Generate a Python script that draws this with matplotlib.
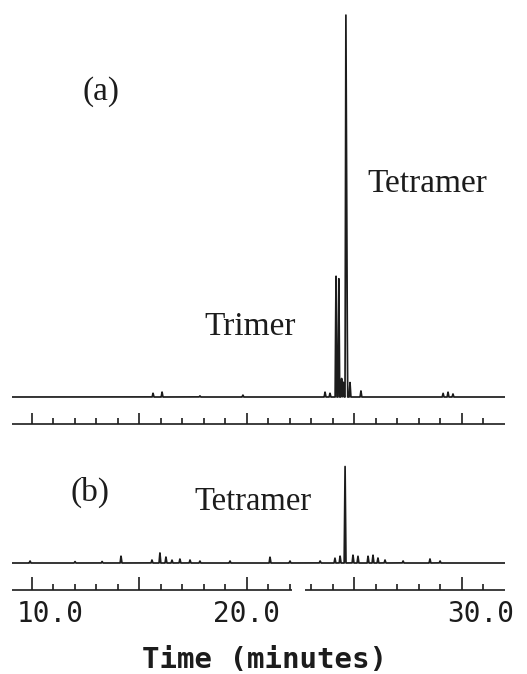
import numpy as np
import matplotlib.pyplot as plt
from matplotlib.transforms import ScaledTranslation

W, H = 527, 674  # figure size in pixels

# peak tables: retention time (minutes), peak height
# (a): heights relative to the tetramer peak = 100
a_times = [15.63, 16.05, 17.81, 19.81, 23.63, 23.86, 24.14, 24.27,
           24.40, 24.48, 24.60, 24.64, 24.79, 25.30, 29.12, 29.35, 29.58]
a_heights = [1.0, 1.3, 0.3, 0.5, 1.3, 1.0, 32.7, 32.0,
             5.0, 4.0, 100.0, 45.0, 3.9, 1.6, 1.0, 1.3, 0.8]

# (b): heights relative to the tetramer peak = 100
b_times = [9.91, 12.00, 13.26, 14.14, 15.58, 15.95, 16.23, 16.51, 16.88,
           17.35, 17.81, 19.21, 21.07, 22.00, 23.40, 24.09, 24.33, 24.56,
           24.93, 25.16, 25.63, 25.86, 26.09, 26.42, 27.26, 28.51, 28.98]
b_heights = [2, 1.5, 1.5, 7, 3, 10, 6, 3, 4,
             3, 2, 2, 6, 2, 2, 5, 7, 100,
             8, 7, 7, 8, 5, 3, 2, 4, 2]

ruler_ticks = list(range(10, 32))          # one tick per minute
ruler_b_segments = [(9.07, 22.10), (22.70, 32.0)]

tick_times = [10, 20, 30]
tick_labels = ['10.0', '20.0', '30.0']

t_min, t_max = 9.07, 32.0
ink = '#1c1c1c'


def trace(t, times, heights, w):
    y = np.zeros_like(t)
    for tp, h in zip(times, heights):
        y += h * np.clip(1 - np.abs(t - tp) / w, 0, None)
    return y


def box(top, bottom):
    return [12 / W, 1 - bottom / H, 493 / W, (bottom - top) / H]


def units(ypx, zero, scale):
    return (zero - ypx) / scale


fig = plt.figure(figsize=(W / 100, H / 100), dpi=100)
t = np.linspace(t_min, t_max, 6000)

# ---- panel (a)
ax_a = fig.add_axes(box(5, 430))
za, sa = 397, 3.82
ax_a.plot(t, trace(t, a_times, a_heights, 0.04), color=ink, lw=1.25)
ax_a.set_ylim(units(430, za, sa), units(5, za, sa))
ax_a.hlines(units(424, za, sa), t_min, t_max, color=ink, lw=1.2)
for tk in ruler_ticks:
    top = 413 if tk % 5 == 0 else 418
    ax_a.vlines(tk, units(424, za, sa), units(top, za, sa), color=ink, lw=1.2)

# ---- panel (b)
ax_b = fig.add_axes(box(455, 596))
zb, sb = 563, 1.01
ax_b.plot(t, trace(t, b_times, b_heights, 0.04), color=ink, lw=1.25)
ax_b.set_ylim(units(596, zb, sb), units(455, zb, sb))
for lo, hi in ruler_b_segments:
    ax_b.hlines(units(590, zb, sb), lo, hi, color=ink, lw=1.2)
for tk in ruler_ticks:
    top = 577 if tk % 5 == 0 else 584
    ax_b.vlines(tk, units(590, zb, sb), units(top, zb, sb), color=ink, lw=1.2)

for ax in (ax_a, ax_b):
    ax.set_xlim(t_min, t_max)
    for s in ax.spines.values():
        s.set_visible(False)
    ax.set_yticks([])
    ax.set_xticks([])

ax_b.set_xticks(tick_times, tick_labels)
ax_b.tick_params(axis='x', length=0, pad=3, labelsize=20, labelcolor=ink)
for lab, dx in zip(ax_b.get_xticklabels(), [18, 0, 19]):
    lab.set_family('DejaVu Sans Mono')
    lab.set_transform(lab.get_transform() + ScaledTranslation(dx / 100, 0, fig.dpi_scale_trans))

fig.text(265 / W, 1 - 660 / H, 'Time (minutes)', ha='center', va='center',
         family='DejaVu Sans Mono', fontweight='bold', fontsize=21, color=ink)

# ---- annotations
serif = dict(family='Liberation Serif', color=ink, ha='left', va='baseline')
fig.text(82 / W, 1 - 100 / H, '(a)', fontsize=24, **serif)
fig.text(367 / W, 1 - 192 / H, 'Tetramer', fontsize=24, **serif)
fig.text(204 / W, 1 - 335 / H, 'Trimer', fontsize=24, **serif)
fig.text(71 / W, 1 - 501 / H, '(b)', fontsize=24, **serif)
fig.text(194 / W, 1 - 510 / H, 'Tetramer', fontsize=23.5, **serif)

fig.savefig('out.png', dpi=100)
